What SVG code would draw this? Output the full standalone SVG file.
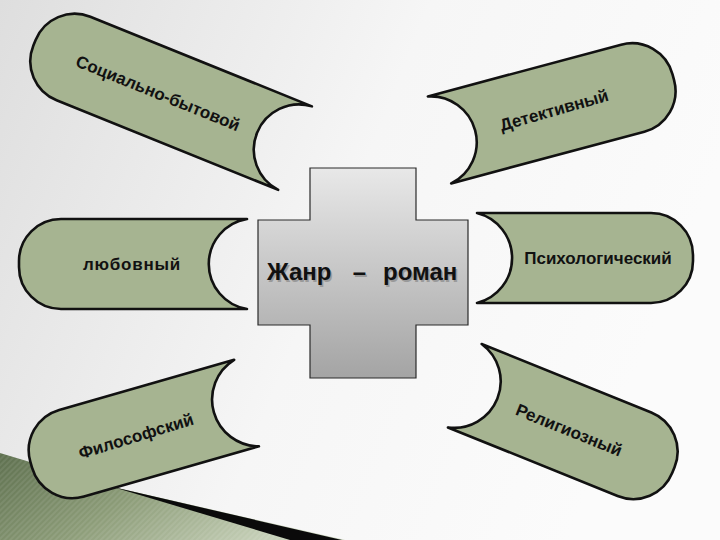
<svg xmlns="http://www.w3.org/2000/svg" width="720" height="540" viewBox="0 0 720 540">
  <defs>
    <linearGradient id="bg" x1="0" y1="0" x2="1" y2="0.3">
      <stop offset="0" stop-color="#dedede"/>
      <stop offset="0.55" stop-color="#f6f6f6"/>
      <stop offset="1" stop-color="#fbfbfb"/>
    </linearGradient>
    <linearGradient id="crossG" x1="0" y1="0" x2="0" y2="1">
      <stop offset="0" stop-color="#e8e8e8"/>
      <stop offset="1" stop-color="#a4a4a4"/>
    </linearGradient>
    <linearGradient id="greenG" x1="0" y1="0" x2="1" y2="0.4">
      <stop offset="0" stop-color="#5e704f"/>
      <stop offset="0.5" stop-color="#8c9c78"/>
      <stop offset="1" stop-color="#c6d0b8"/>
    </linearGradient>
    <pattern id="stripes" width="4" height="4" patternUnits="userSpaceOnUse" patternTransform="rotate(45)">
      <rect width="2" height="4" fill="#ffffff" fill-opacity="0.08"/>
    </pattern>
    <style>
      .pill { fill: #a6b491; stroke: #111; stroke-width: 2.6; stroke-linejoin: round; }
      .lbl { font-family: "Liberation Sans", Arial, sans-serif; font-weight: bold; font-size: 17px; fill: #111; text-anchor: middle; }
      .title { font-family: "Liberation Sans", Arial, sans-serif; font-weight: bold; font-size: 24px; fill: #111; }
      .shadow { fill: #9a9a9a; }
    </style>
  </defs>

  <rect width="720" height="540" fill="url(#bg)"/>
  <polygon points="0,453 113,487 345,540 0,540" fill="url(#greenG)"/>
  <polygon points="0,453 113,487 345,540 0,540" fill="url(#stripes)"/>
  <polygon points="113,487 342,540 290,540" fill="#0a0a0a"/>

  <g id="connectors"></g>

  <g id="center">
    <path d="M310,168 H416 V220 H468 V325 H416 V378 H310 V325 H258 V220 H310 Z" fill="url(#crossG)" stroke="#2a2a2a" stroke-width="1.2"/>
    <g class="title shadow" transform="translate(1.5,1.5)">
      <text x="267" y="280">Жанр</text>
      <text x="359.5" y="280" text-anchor="middle">–</text>
      <text x="383" y="280">роман</text>
    </g>
    <g class="title">
      <text x="267" y="280">Жанр</text>
      <text x="359.5" y="280" text-anchor="middle">–</text>
      <text x="383" y="280">роман</text>
    </g>
  </g>

  <g id="social">
    <path class="pill" transform="translate(34.5,42.8) rotate(22)" d="M281,-45 L42,-45 A42,42 0 0 0 0,-3 L0,3 A42,42 0 0 0 42,45 L281,45 A45.2,45.2 0 0 1 281,-45 Z"/>
    <text class="lbl" transform="translate(158,93) rotate(22)" dy="0.35em">Социально-бытовой</text>
  </g>

  <g id="detective">
    <path class="pill" transform="translate(673.3,77.3) rotate(165)" d="M242,-45 L42,-45 A42,42 0 0 0 0,-3 L0,3 A42,42 0 0 0 42,45 L242,45 A45.9,45.9 0 0 1 242,-45 Z"/>
    <text class="lbl" transform="translate(554,110) rotate(-16)" dy="0.35em">Детективный</text>
  </g>

  <g id="love">
    <path class="pill" transform="translate(19,264)" d="M228,-45 L42,-45 A42,42 0 0 0 0,-3 L0,3 A42,42 0 0 0 42,45 L228,45 A45.6,45.6 0 0 1 228,-45 Z"/>
    <text class="lbl" x="132" y="264" dy="0.35em" font-size="16" letter-spacing="0.8">любовный</text>
  </g>

  <g id="psych">
    <path class="pill" transform="translate(693,258) rotate(180)" d="M216,-45 L42,-45 A42,42 0 0 0 0,-3 L0,3 A42,42 0 0 0 42,45 L216,45 A46.4,46.4 0 0 1 216,-45 Z"/>
    <text class="lbl" x="598" y="258" dy="0.35em">Психологический</text>
  </g>

  <g id="philo">
    <path class="pill" transform="translate(31.2,464.8) rotate(-16)" d="M224,-45 L42,-45 A42,42 0 0 0 0,-3 L0,3 A42,42 0 0 0 42,45 L224,45 A46.8,46.8 0 0 1 224,-45 Z"/>
    <text class="lbl" transform="translate(136,436) rotate(-17)" dy="0.35em">Философский</text>
  </g>

  <g id="relig">
    <path class="pill" transform="translate(673.4,470) rotate(202)" d="M225,-45 L42,-45 A42,42 0 0 0 0,-3 L0,3 A42,42 0 0 0 42,45 L225,45 A46.4,46.4 0 0 1 225,-45 Z"/>
    <text class="lbl" transform="translate(569,430) rotate(22)" dy="0.35em">Религиозный</text>
  </g>
</svg>
